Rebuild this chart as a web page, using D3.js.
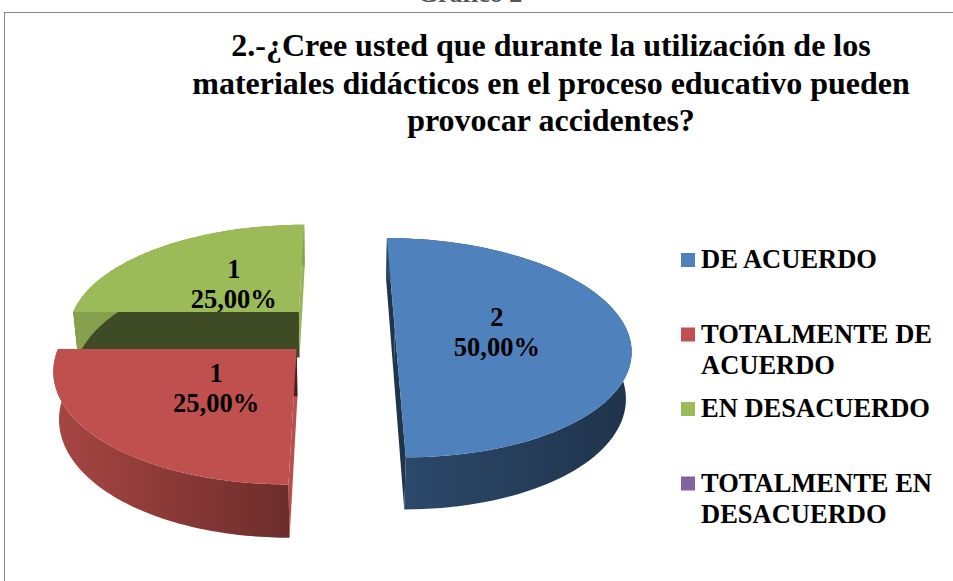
<!DOCTYPE html>
<meta charset="utf-8">
<style>
  body { margin: 0; background: #fff; }
  text { font-family: "Times New Roman", "Liberation Serif", serif; font-weight: bold; }
</style>
<body>
<script src="https://d3js.org/d3.v7.min.js"></script>
<script>

    // data
    var categories = ["DE ACUERDO", "TOTALMENTE DE ACUERDO", "EN DESACUERDO", "TOTALMENTE EN DESACUERDO"];
    var values = [2, 1, 1, 0];
    var legendLines = [["DE ACUERDO"], ["TOTALMENTE DE", "ACUERDO"], ["EN DESACUERDO"], ["TOTALMENTE EN", "DESACUERDO"]];
    var titleLines = ["2.-¿Cree usted que durante la utilización de los",
                      "materiales didácticos en el proceso educativo pueden",
                      "provocar accidentes?"];
    var colors = ["#4F81BD", "#C0504D", "#9BBB59", "#8064A2"];

    var width = 953, height = 581;
    var svg = d3.select("body").append("svg").attr("width", width).attr("height", height);
    var defs = svg.append("defs");

    // chart frame (runs off the right and bottom of the page)
    svg.append("rect")
        .attr("x", 4.5).attr("y", 12.5)
        .attr("width", 1000).attr("height", 1000)
        .attr("fill", "none").attr("stroke", "#868686").attr("stroke-width", 1);

    // caption above the frame, mostly cut off by the page top
    svg.append("text")
        .attr("x", 470).attr("y", 2)
        .attr("text-anchor", "middle")
        .style("font-size", "26px").style("fill", "#555")
        .text("Gráfico 2");

    // title
    svg.append("g").selectAll("text")
        .data(titleLines)
        .enter().append("text")
        .attr("x", 551)
        .attr("y", function(d, i) { return 56 + i * 37.5; })
        .attr("text-anchor", "middle")
        .style("font-size", "32px")
        .text(function(d) { return d; });

    // 3d projection of the pie (unit radius, top face at y = 0)
    var cx = 338, cy = 330, focal = 1276, dist = 5.5,
        sinT = 0.46, cosT = Math.sqrt(1 - sinT * sinT),
        thick = 0.229, explode = 0.245;

    function project(X, Y, Z) {
        var depth = dist - (Y * sinT + Z * cosT);
        return [cx + focal * X / depth, cy + focal * (Z * sinT - Y * cosT) / depth];
    }

    var pie = d3.pie().sort(null).startAngle(0).endAngle(2 * Math.PI);
    var arcs = pie(values).map(function(d, i) {
        var mid = (d.startAngle + d.endAngle) / 2;
        d.color = colors[i];
        d.ox = explode * Math.sin(mid);
        d.oz = -explode * Math.cos(mid);
        return d;
    }).filter(function(d) { return d.value > 0; });

    function pt(d, r, a, Y) {
        return project(d.ox + r * Math.sin(a), Y, d.oz - r * Math.cos(a));
    }

    function arcPts(d, Y) {
        var n = 90, pts = [];
        for (var k = 0; k <= n; k++) {
            pts.push(pt(d, 1, d.startAngle + (d.endAngle - d.startAngle) * k / n, Y));
        }
        return pts;
    }

    var line = d3.line();
    var deg = 180 / Math.PI;
    // side wall brightness by angle (light from the left)
    var wallShade = d3.scaleLinear().domain([90, 180, 270]).range([0.41, 0.56, 0.86]).clamp(true);

    function shade(c, k) {
        var rgb = d3.rgb(c);
        return d3.rgb(rgb.r * k, rgb.g * k, rgb.b * k).formatHex();
    }

    var slices = svg.append("g")
        .selectAll("g")
        .data(arcs.slice().sort(function(a, b) { return a.oz - b.oz; }))
        .enter().append("g");

    slices.each(function(d, i) {
        var g = d3.select(this);

        // flat cut faces
        [[d.startAngle, -1], [d.endAngle, 1]].forEach(function(e) {
            var a = e[0], nx = e[1] * Math.cos(a);
            var face = [pt(d, 0, a, 0), pt(d, 1, a, 0), pt(d, 1, a, -thick), pt(d, 0, a, -thick)];
            g.append("path")
                .attr("d", line(face) + "Z")
                .attr("fill", shade(d.color, nx > 0.5 ? 0.97 : 0.4));
        });

        // curved side wall
        var top = arcPts(d, 0), bottom = arcPts(d, -thick);
        var lo = Math.max(d.startAngle * deg, 90), hi = Math.min(d.endAngle * deg, 270);
        var fill;
        if (hi > lo) {
            var id = "wall" + i;
            var p1 = project(d.ox + Math.sin(lo / deg), -thick, d.oz - Math.cos(lo / deg)),
                p2 = project(d.ox + Math.sin(hi / deg), -thick, d.oz - Math.cos(hi / deg));
            var grad = defs.append("linearGradient").attr("id", id)
                .attr("gradientUnits", "userSpaceOnUse")
                .attr("x1", p1[0]).attr("y1", 0).attr("x2", p2[0]).attr("y2", 0);
            grad.append("stop").attr("offset", 0).attr("stop-color", shade(d.color, wallShade(lo)));
            grad.append("stop").attr("offset", 1).attr("stop-color", shade(d.color, wallShade(hi)));
            fill = "url(#" + id + ")";
        } else {
            fill = shade(d.color, wallShade(270));
        }
        g.append("path")
            .attr("d", line(top.concat(bottom.reverse())) + "Z")
            .attr("fill", fill);

        // top face
        g.append("path")
            .attr("d", line([pt(d, 0, 0, 0)].concat(top)) + "Z")
            .attr("fill", d.color);
    });

    // data labels
    var total = d3.sum(values);
    var pct = function(v) { return d3.format(".2f")(v / total * 100).replace(".", ",") + "%"; };

    var labels = svg.append("g").selectAll("text")
        .data(arcs)
        .enter().append("text")
        .attr("text-anchor", "middle")
        .style("font-size", "26.5px")
        .attr("transform", function(d) {
            var p = pt(d, 0.44, (d.startAngle + d.endAngle) / 2, 0);
            return "translate(" + p[0] + "," + p[1] + ")";
        });
    labels.append("tspan").attr("x", 0).attr("y", -4).text(function(d) { return d.value; });
    labels.append("tspan").attr("x", 0).attr("y", 26).text(function(d) { return pct(d.value); });

    // legend
    var legend = svg.append("g").selectAll("g")
        .data(categories)
        .enter().append("g")
        .attr("transform", function(d, i) { return "translate(681," + (260 + i * 74.5) + ")"; });

    legend.append("rect")
        .attr("x", 0).attr("y", -7)
        .attr("width", 14).attr("height", 14)
        .attr("fill", function(d, i) { return colors[i]; });

    legend.append("text")
        .selectAll("tspan")
        .data(function(d, i) { return legendLines[i]; })
        .enter().append("tspan")
        .attr("x", 20)
        .attr("y", function(d, j) { return 8 + j * 31; })
        .style("font-size", "26.5px")
        .text(function(d) { return d; });

</script>
</body>
